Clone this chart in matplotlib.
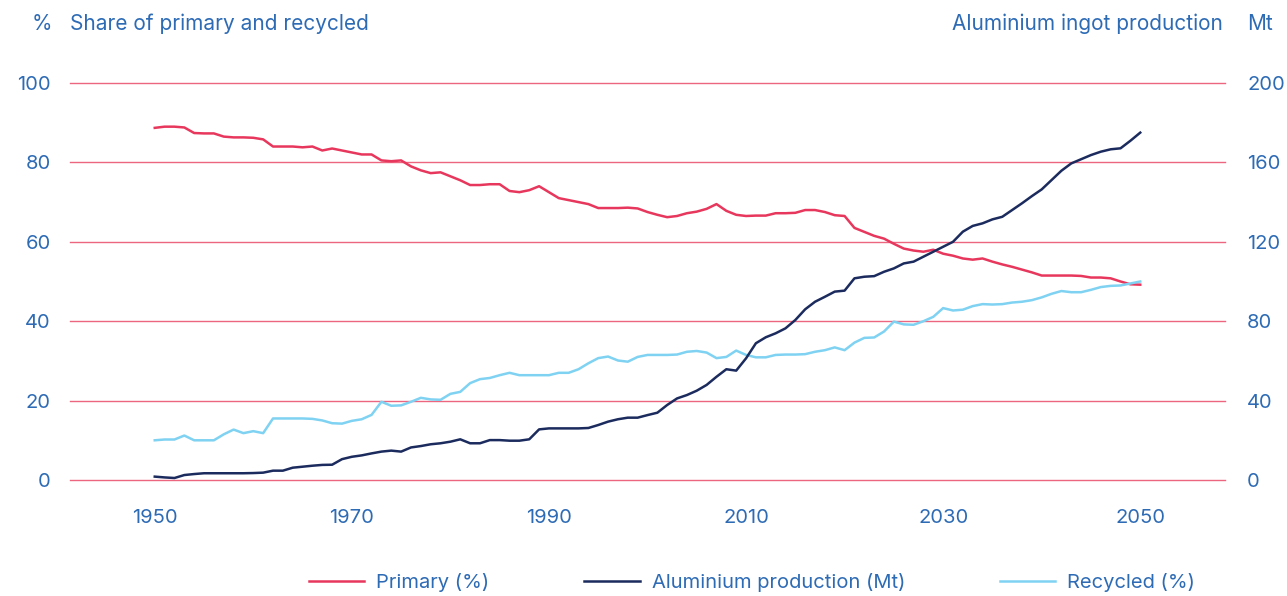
# Aluminium: share of primary vs recycled and ingot production, 1950-2050
import numpy as np
import matplotlib.pyplot as plt
from matplotlib.lines import Line2D

plt.rcParams['font.family'] = ['Inter', 'DejaVu Sans']

years = np.arange(1950, 2051)

# share of primary aluminium (%)
primary = [
    88.7, 89.0, 89.0, 88.8, 87.4, 87.3, 87.3, 86.5, 86.3, 86.3,
    86.2, 85.8, 84.0, 84.0, 84.0, 83.8, 84.0, 83.0, 83.5, 83.0,
    82.5, 82.0, 82.0, 80.5, 80.3, 80.5, 79.0, 78.0, 77.3, 77.5,
    76.5, 75.5, 74.3, 74.3, 74.5, 74.5, 72.8, 72.5, 73.0, 74.0,
    72.5, 71.0, 70.5, 70.0, 69.5, 68.5, 68.5, 68.5, 68.6, 68.4,
    67.5, 66.8, 66.2, 66.5, 67.2, 67.6, 68.3, 69.5, 67.8, 66.8,
    66.5, 66.6, 66.6, 67.2, 67.2, 67.3, 68.0, 68.0, 67.5, 66.7,
    66.5, 63.5, 62.5, 61.5, 60.8, 59.5, 58.3, 57.8, 57.5, 58.0,
    57.0, 56.5, 55.8, 55.5, 55.8, 55.0, 54.3, 53.7, 53.0, 52.3,
    51.5, 51.5, 51.5, 51.5, 51.4, 51.0, 51.0, 50.8, 50.0, 49.3,
    49.2,
]

# share of recycled aluminium (%)
recycled = [
    10.0, 10.2, 10.2, 11.2, 10.0, 10.0, 10.0, 11.5, 12.7, 11.8,
    12.3, 11.8, 15.5, 15.5, 15.5, 15.5, 15.4, 15.0, 14.3, 14.2,
    14.9, 15.3, 16.4, 19.7, 18.7, 18.8, 19.7, 20.7, 20.3, 20.2,
    21.7, 22.2, 24.4, 25.4, 25.7, 26.4, 27.0, 26.4, 26.4, 26.4,
    26.4, 27.0, 27.0, 27.9, 29.4, 30.7, 31.1, 30.1, 29.8, 31.0,
    31.5, 31.5, 31.5, 31.6, 32.3, 32.5, 32.1, 30.7, 31.0, 32.6,
    31.5, 30.9, 30.9, 31.5, 31.6, 31.6, 31.7, 32.3, 32.7, 33.4,
    32.7, 34.6, 35.8, 35.9, 37.4, 39.9, 39.2, 39.1, 40.0, 41.1,
    43.3, 42.7, 42.9, 43.8, 44.3, 44.2, 44.3, 44.7, 44.9, 45.3,
    46.0, 46.9, 47.6, 47.3, 47.3, 47.9, 48.6, 48.9, 49.0, 49.5,
    50.0,
]

# aluminium ingot production (Mt)
production = [
    1.7, 1.3, 1.0, 2.5, 3.0, 3.4, 3.4, 3.4, 3.4, 3.4,
    3.5, 3.7, 4.7, 4.7, 6.2, 6.7, 7.2, 7.6, 7.7, 10.5,
    11.7, 12.4, 13.4, 14.3, 14.8, 14.3, 16.4, 17.1, 18.0, 18.5,
    19.3, 20.5, 18.5, 18.5, 20.1, 20.1, 19.8, 19.8, 20.5, 25.5,
    26.0, 26.0, 26.0, 26.0, 26.2, 27.7, 29.4, 30.6, 31.4, 31.4,
    32.7, 33.9, 37.8, 41.1, 42.8, 45.0, 47.9, 52.0, 55.8, 55.1,
    61.3, 68.9, 71.9, 73.9, 76.4, 80.6, 86.0, 89.8, 92.3, 94.9,
    95.4, 101.6, 102.4, 102.7, 104.9, 106.6, 109.1, 110.0, 112.5, 115.0,
    117.5, 120.0, 125.1, 128.0, 129.3, 131.3, 132.6, 136.0, 139.4, 143.0,
    146.4, 151.1, 155.8, 159.5, 161.6, 163.7, 165.4, 166.6, 167.1, 170.9,
    175.0,
]

red = '#e8375c'
navy = '#1c2b5e'
sky = '#7fd2f2'
txt = '#2e6bb5'
grid = '#ec6680'

fig = plt.figure(figsize=(12.87, 5.96), dpi=100)
ax = fig.add_axes([70/1287, 1-480/596, (1225-70)/1287, (480-83)/596])
ax2 = ax.twinx()

ax.set_xlim(1941.4, 2058.6)
ax.set_ylim(0, 100)
ax2.set_ylim(0, 200)

ax.set_yticks([0, 20, 40, 60, 80, 100])
ax2.set_yticks([0, 40, 80, 120, 160, 200])
ax.set_xticks([1950, 1970, 1990, 2010, 2030, 2050])

for y in [0, 20, 40, 60, 80, 100]:
    ax.axhline(y, color=grid, lw=1.0, zorder=0, clip_on=False)

ax.plot(years, primary, color=red, lw=1.8, zorder=3)
ax.plot(years, recycled, color=sky, lw=1.8, zorder=3)
ax2.plot(years, production, color=navy, lw=1.8, zorder=3)

for a in (ax, ax2):
    for s in a.spines.values():
        s.set_visible(False)
    a.tick_params(length=0, labelsize=14.5, labelcolor=txt)
    a.patch.set_visible(False)
ax.tick_params(axis='y', pad=14)
ax2.tick_params(axis='y', pad=16)
ax.tick_params(axis='x', pad=21)

hdr = 15
fig.text(42/1287, 1-24/596, '%', color=txt, fontsize=hdr, ha='center', va='center')
fig.text(70/1287, 1-24/596, 'Share of primary and recycled', color=txt, fontsize=hdr,
         ha='left', va='center')
fig.text(1223/1287, 1-24/596, 'Aluminium ingot production', color=txt, fontsize=hdr,
         ha='right', va='center')
fig.text(1247/1287, 1-24/596, 'Mt', color=txt, fontsize=hdr, ha='left', va='center')

handles = [
    Line2D([], [], color=red, lw=1.8),
    Line2D([], [], color=navy, lw=1.8),
    Line2D([], [], color=sky, lw=1.8),
]
labels = ['Primary (%)', 'Aluminium production (Mt)', 'Recycled (%)']
leg = fig.legend(handles, labels, loc='center', bbox_to_anchor=(752/1287, 1-583/596),
                 ncol=3, frameon=False, fontsize=14.5, handlelength=2.75,
                 handletextpad=0.6, columnspacing=4.7)
for t in leg.get_texts():
    t.set_color(txt)

fig.savefig('out.png', dpi=100)
